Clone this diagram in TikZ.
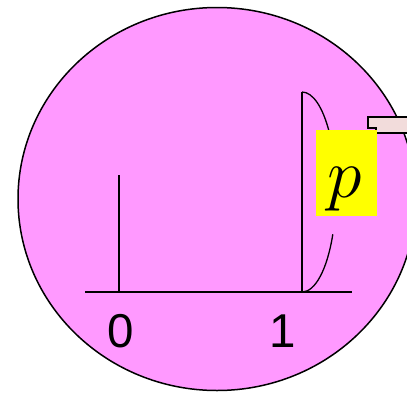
\RequirePackage{fix-cm}
\documentclass[tikz,border=0pt]{standalone}
\usepackage{fontspec}
\setmainfont{Liberation Sans}
\definecolor{bubble}{RGB}{255,153,255}
\definecolor{tab}{RGB}{242,220,219}
\definecolor{hl}{RGB}{255,255,0}
\tikzset{
  stroke/.style={draw=black, line width=1.3pt},
  digit/.style={anchor=base, inner sep=0pt, font=\fontsize{47.5}{50}\selectfont},
}
\begin{document}
\begin{tikzpicture}[x=1pt,y=-1pt]
\useasboundingbox (0,0) rectangle (407,394);
\clip (0,0) rectangle (407,394);
% big pink disc
\filldraw[fill=bubble, draw=black, line width=1.5pt] (217,199) ellipse [x radius=199, y radius=191.5];
% axis
\coordinate (axL) at (85,292);
\coordinate (axR) at (352,292);
\coordinate (z0) at (119,292);
\coordinate (z0t) at (119,175);
\coordinate (o1) at (302,292);
\coordinate (o1t) at (302,92);
\draw[stroke] (axL) -- (axR);
\draw[stroke] (z0) -- (z0t);
\draw[stroke] (o1) -- (o1t);
% density curve (two visible pieces)
\draw[stroke] (o1t) arc[start angle=90, end angle=36, x radius=34, y radius=-100];
\draw[stroke] (302,192) ++(-25:34 and -100) arc[start angle=-25, end angle=-90, x radius=34, y radius=-100];
% labels
\node[digit] (l0) at (121,347) {0};
\node[digit] (l1) at (283,347) {1};
% tab behind label
\filldraw[fill=tab, draw=black, line width=1.3pt] (376,133) -- (376,128) -- (368,128) -- (368,117) -- (410,117) -- (410,133) -- cycle;
% yellow p box
\fill[hl] (316,130) rectangle (377,216);
\node[inner sep=0pt] (p) at (345,189) {\fontsize{70}{72}\selectfont$p$};
\end{tikzpicture}
\end{document}
